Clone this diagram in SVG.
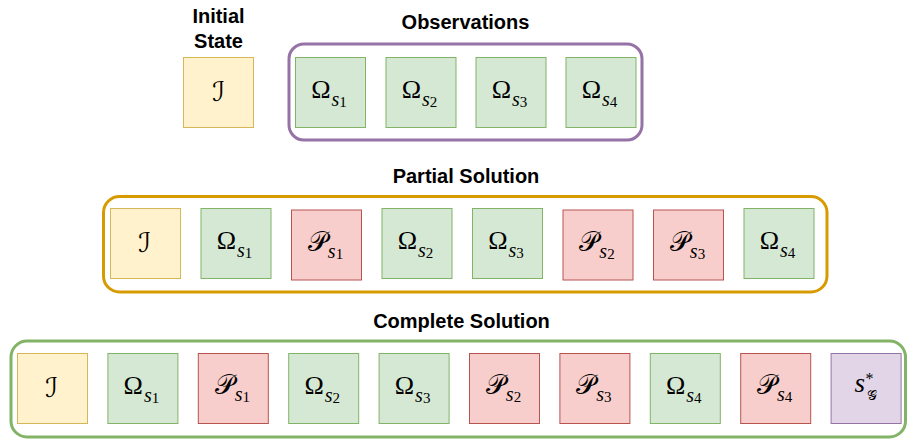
<svg xmlns="http://www.w3.org/2000/svg" width="907" height="439" viewBox="0 0 907 439">
<style>
.title{font-family:"Liberation Sans",Arial,sans-serif;font-weight:bold;font-size:20px;fill:#000;text-anchor:middle}
.box{stroke-width:1}
.y{fill:#fff2cc;stroke:#d6b656}
.g{fill:#d5e8d4;stroke:#82b366}
.r{fill:#f8cecc;stroke:#b85450}
.p{fill:#e1d5e7;stroke:#9673a6}
.cont{fill:none;stroke-width:3}
.m{font-family:"Liberation Serif","Times New Roman",serif;font-size:26px;fill:#000;text-anchor:middle}
.cal{font-family:"DejaVu Serif","DejaVu Sans","Noto Sans",serif}
.ci{font-size:27px}
.cp{font-size:27px}
.s{font-family:"Liberation Serif","Times New Roman",serif;font-style:italic;font-size:20px}
.d{font-family:"Liberation Serif","Times New Roman",serif;font-size:15px}
</style>
<rect width="907" height="439" fill="#fff"/>
<g id="labels">
<text class="title" x="218.5" y="23">Initial</text>
<text class="title" x="218.5" y="48">State</text>
<text class="title" x="465.5" y="29">Observations</text>
<text class="title" x="466" y="183">Partial Solution</text>
<text class="title" x="461.5" y="328">Complete Solution</text>
</g>
<g id="containers">
<rect id="observations" class="cont" x="289" y="44" width="353" height="96" rx="15" stroke="#9673a6"/>
<rect id="partial-solution" class="cont" x="103.5" y="196.5" width="723.5" height="95.5" rx="16" stroke="#d79b00"/>
<rect id="complete-solution" class="cont" x="11" y="341" width="894.5" height="96" rx="16" stroke="#82b366"/>
</g>
<g id="connectors"/>
<g id="init-top"><rect class="box y" x="183.5" y="57.5" width="70" height="70"/><text class="m cal ci" x="218.5" y="100.5">ℐ</text></g>
<g id="obs-omega1"><rect class="box g" x="295.5" y="57.5" width="70" height="70"/><text class="m" x="329" y="98">Ω<tspan class="s" dx="1" dy="8">s</tspan><tspan class="d" dy="1">1</tspan></text></g>
<g id="obs-omega2"><rect class="box g" x="386" y="57.5" width="70" height="70"/><text class="m" x="419.5" y="98">Ω<tspan class="s" dx="1" dy="8">s</tspan><tspan class="d" dy="1">2</tspan></text></g>
<g id="obs-omega3"><rect class="box g" x="476" y="57.5" width="70" height="70"/><text class="m" x="509.5" y="98">Ω<tspan class="s" dx="1" dy="8">s</tspan><tspan class="d" dy="1">3</tspan></text></g>
<g id="obs-omega4"><rect class="box g" x="566" y="57.5" width="70" height="70"/><text class="m" x="599.5" y="98">Ω<tspan class="s" dx="1" dy="8">s</tspan><tspan class="d" dy="1">4</tspan></text></g>
<g id="p-init"><rect class="box y" x="110.5" y="208.5" width="70" height="70"/><text class="m cal ci" x="144.5" y="251.5">ℐ</text></g>
<g id="p-omega1"><rect class="box g" x="201" y="208.5" width="70" height="70"/><text class="m" x="234.5" y="249">Ω<tspan class="s" dx="1" dy="8">s</tspan><tspan class="d" dy="1">1</tspan></text></g>
<g id="p-plan1"><rect class="box r" x="291.5" y="210" width="70" height="70"/><text class="m" x="325.5" y="251"><tspan class="cal cp">𝒫</tspan><tspan class="s" dx="1" dy="7">s</tspan><tspan class="d" dy="1">1</tspan></text></g>
<g id="p-omega2"><rect class="box g" x="382" y="208.5" width="70" height="70"/><text class="m" x="415.5" y="249">Ω<tspan class="s" dx="1" dy="8">s</tspan><tspan class="d" dy="1">2</tspan></text></g>
<g id="p-omega3"><rect class="box g" x="472.5" y="208.5" width="70" height="70"/><text class="m" x="506" y="249">Ω<tspan class="s" dx="1" dy="8">s</tspan><tspan class="d" dy="1">3</tspan></text></g>
<g id="p-plan2"><rect class="box r" x="563" y="210" width="70" height="70"/><text class="m" x="597" y="251"><tspan class="cal cp">𝒫</tspan><tspan class="s" dx="1" dy="7">s</tspan><tspan class="d" dy="1">2</tspan></text></g>
<g id="p-plan3"><rect class="box r" x="653.5" y="210" width="70" height="70"/><text class="m" x="687.5" y="251"><tspan class="cal cp">𝒫</tspan><tspan class="s" dx="1" dy="7">s</tspan><tspan class="d" dy="1">3</tspan></text></g>
<g id="p-omega4"><rect class="box g" x="744" y="208.5" width="70" height="70"/><text class="m" x="777.5" y="249">Ω<tspan class="s" dx="1" dy="8">s</tspan><tspan class="d" dy="1">4</tspan></text></g>
<g id="c-init"><rect class="box y" x="17.5" y="353.5" width="70" height="70"/><text class="m cal ci" x="51.5" y="396.5">ℐ</text></g>
<g id="c-omega1"><rect class="box g" x="107.9" y="353.5" width="70" height="70"/><text class="m" x="141.4" y="394">Ω<tspan class="s" dx="1" dy="8">s</tspan><tspan class="d" dy="1">1</tspan></text></g>
<g id="c-plan1"><rect class="box r" x="198.3" y="353.5" width="70" height="70"/><text class="m" x="232.3" y="394"><tspan class="cal cp">𝒫</tspan><tspan class="s" dx="1" dy="7">s</tspan><tspan class="d" dy="1">1</tspan></text></g>
<g id="c-omega2"><rect class="box g" x="288.7" y="353.5" width="70" height="70"/><text class="m" x="322.2" y="394">Ω<tspan class="s" dx="1" dy="8">s</tspan><tspan class="d" dy="1">2</tspan></text></g>
<g id="c-omega3"><rect class="box g" x="379.1" y="353.5" width="70" height="70"/><text class="m" x="412.6" y="394">Ω<tspan class="s" dx="1" dy="8">s</tspan><tspan class="d" dy="1">3</tspan></text></g>
<g id="c-plan2"><rect class="box r" x="469.5" y="353.5" width="70" height="70"/><text class="m" x="503.5" y="394"><tspan class="cal cp">𝒫</tspan><tspan class="s" dx="1" dy="7">s</tspan><tspan class="d" dy="1">2</tspan></text></g>
<g id="c-plan3"><rect class="box r" x="559.9" y="353.5" width="70" height="70"/><text class="m" x="593.9" y="394"><tspan class="cal cp">𝒫</tspan><tspan class="s" dx="1" dy="7">s</tspan><tspan class="d" dy="1">3</tspan></text></g>
<g id="c-omega4"><rect class="box g" x="650.3" y="353.5" width="70" height="70"/><text class="m" x="683.8" y="394">Ω<tspan class="s" dx="1" dy="8">s</tspan><tspan class="d" dy="1">4</tspan></text></g>
<g id="c-plan4"><rect class="box r" x="740.7" y="353.5" width="70" height="70"/><text class="m" x="774.7" y="394"><tspan class="cal cp">𝒫</tspan><tspan class="s" dx="1" dy="7">s</tspan><tspan class="d" dy="1">4</tspan></text></g>
<g id="c-goal"><rect class="box p" x="831.1" y="353.5" width="70" height="70"/>
<text x="854.5" y="392" font-family="Liberation Serif,serif" font-style="italic" font-size="27">s</text>
<text x="865.5" y="384" font-family="Liberation Serif,serif" font-size="16">*</text>
<text class="cal" x="867" y="400" font-size="14">𝒢</text></g>
</svg>
